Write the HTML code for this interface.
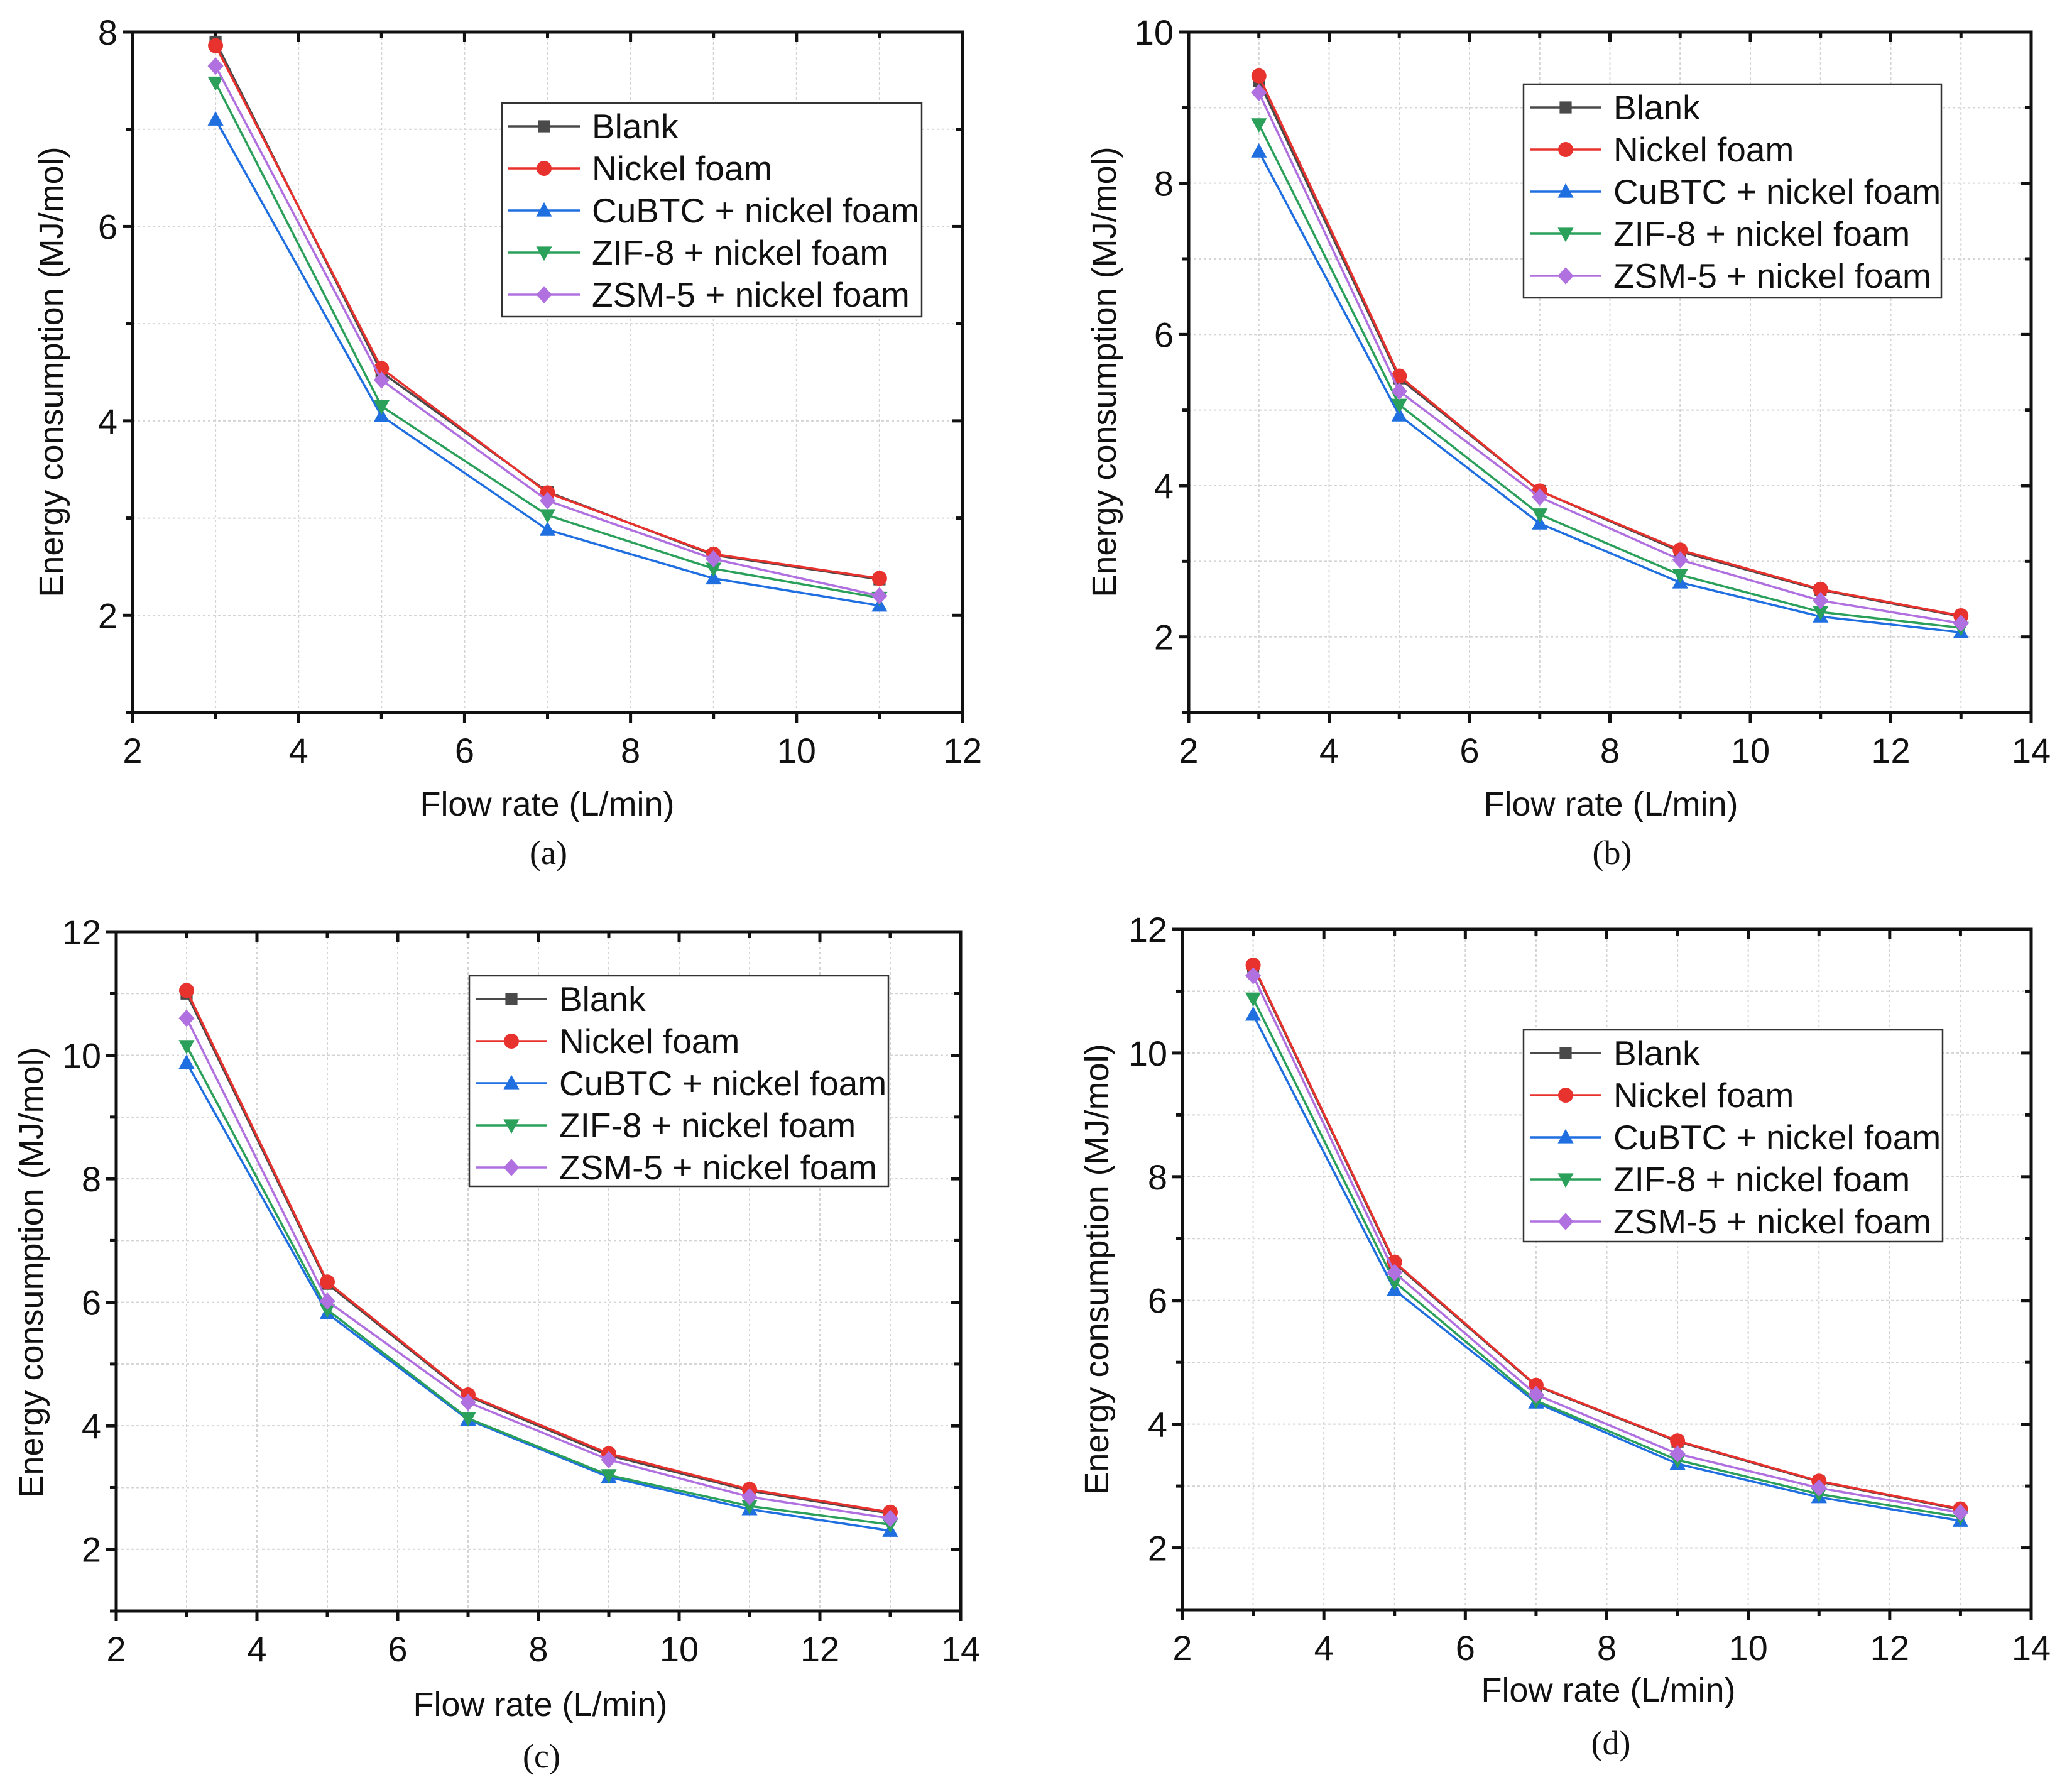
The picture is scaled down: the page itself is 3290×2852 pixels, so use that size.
<!DOCTYPE html>
<html><head><meta charset="utf-8"><style>
html,body{margin:0;padding:0;background:#fff;}
svg{display:block;}
text{font-family:"Liberation Sans",sans-serif;fill:#111;}
.cap{font-family:"Liberation Serif",serif;}
</style></head><body>
<svg id="fig" width="3290" height="2852" viewBox="0 0 3290 2852" xmlns="http://www.w3.org/2000/svg"></svg>
<script>
const seriesNames = ["Blank","Nickel foam","CuBTC + nickel foam","ZIF-8 + nickel foam","ZSM-5 + nickel foam"];
const seriesColors = ["#4a4a4a","#e8322e","#1f6fe0","#2aa05a","#b070e0"];
const seriesMarkers = ["square","circle","up","down","diamond"];

const xA = [3,5,7,9,11];
const aBlank = [7.9,4.5,3.27,2.62,2.37];
const aNickel = [7.86,4.54,3.26,2.63,2.38];
const aCuBTC = [7.1,4.05,2.88,2.38,2.1];
const aZIF = [7.48,4.15,3.03,2.48,2.18];
const aZSM = [7.65,4.42,3.18,2.58,2.2];

const xB = [3,5,7,9,11,13];
const bBlank = [9.35,5.42,3.93,3.13,2.62,2.27];
const bNickel = [9.42,5.45,3.93,3.15,2.63,2.28];
const bCuBTC = [8.42,4.93,3.5,2.72,2.27,2.06];
const bZIF = [8.78,5.07,3.62,2.82,2.33,2.12];
const bZSM = [9.2,5.25,3.85,3.02,2.48,2.18];

const xC = [3,5,7,9,11,13];
const cBlank = [11.0,6.3,4.48,3.52,2.95,2.58];
const cNickel = [11.05,6.33,4.5,3.55,2.97,2.6];
const cCuBTC = [9.88,5.82,4.1,3.17,2.65,2.3];
const cZIF = [10.15,5.88,4.12,3.2,2.7,2.4];
const cZSM = [10.6,6.02,4.38,3.45,2.85,2.5];

const xD = [3,5,7,9,11,13];
const dBlank = [11.4,6.6,4.62,3.72,3.07,2.62];
const dNickel = [11.42,6.62,4.63,3.73,3.08,2.63];
const dCuBTC = [10.62,6.17,4.35,3.36,2.82,2.44];
const dZIF = [10.88,6.3,4.38,3.42,2.87,2.5];
const dZSM = [11.25,6.45,4.48,3.52,2.97,2.57];

const xTicksA = [2,4,6,8,10,12];
const xTicks14 = [2,4,6,8,10,12,14];
const yTicksA = [2,4,6,8];
const yTicksB = [2,4,6,8,10];
const yTicksCD = [2,4,6,8,10,12];

const NS="http://www.w3.org/2000/svg";
const svg=document.getElementById('fig');
function mk(tag,attrs,parent){const e=document.createElementNS(NS,tag);for(const k in attrs)e.setAttribute(k,attrs[k]);(parent||svg).appendChild(e);return e;}

function marker(g,type,cx,cy,color,s){
  let e;
  if(type==="square") e=mk('rect',{x:cx-s*0.8,y:cy-s*0.8,width:s*1.6,height:s*1.6,fill:color},g);
  else if(type==="circle") e=mk('circle',{cx:cx,cy:cy,r:s,fill:color},g);
  else if(type==="up") e=mk('polygon',{points:`${cx},${cy-s*1.1} ${cx+s*1.05},${cy+s*0.8} ${cx-s*1.05},${cy+s*0.8}`,fill:color},g);
  else if(type==="down") e=mk('polygon',{points:`${cx},${cy+s*1.1} ${cx+s*1.05},${cy-s*0.8} ${cx-s*1.05},${cy-s*0.8}`,fill:color},g);
  else e=mk('polygon',{points:`${cx},${cy-s*1.15} ${cx+s*1.05},${cy} ${cx},${cy+s*1.15} ${cx-s*1.05},${cy}`,fill:color},g);
  return e;
}

function panel(p){
  const g=mk('g',{});
  
  
  const L=p.L,R=p.R,T=p.T,B=p.B;
  const sx=v=>L+(v-p.xmin)/(p.xmax-p.xmin)*(R-L);
  const sy=v=>B-(v-p.ymin)/(p.ymax-p.ymin)*(B-T);
  const grid=mk('g',{stroke:'#d4d4d4','stroke-width':2,'stroke-dasharray':'4,4'},g);
  
  
  for(let v=p.xmin+1;v<p.xmax;v++) mk('line',{x1:sx(v),x2:sx(v),y1:T,y2:B},grid);
  for(let v=p.ymin+1;v<p.ymax;v++) mk('line',{x1:L,x2:R,y1:sy(v),y2:sy(v)},grid);
  const tk=mk('g',{stroke:'#111','stroke-width':5},g);
  for(let v=p.xmin;v<=p.xmax;v++){const maj=p.xticks.includes(v);const l=maj?16:10;
    mk('line',{x1:sx(v),x2:sx(v),y1:B,y2:B+l},tk);mk('line',{x1:sx(v),x2:sx(v),y1:T,y2:T+l},tk);}
  for(let v=p.ymin;v<=p.ymax;v++){const maj=p.yticks.includes(v);const l=maj?16:10;
    mk('line',{x1:L-l,x2:L,y1:sy(v),y2:sy(v)},tk);mk('line',{x1:R-l,x2:R,y1:sy(v),y2:sy(v)},tk);}
  const fr=mk('rect',{x:L,y:T,width:R-L,height:B-T,fill:'none',stroke:'#111','stroke-width':5},g);
  
  
  p.xticks.forEach(v=>{const t=mk('text',{x:sx(v),y:B+80,'font-size':56,'text-anchor':'middle'},g);t.textContent=v;
    });
  p.yticks.forEach(v=>{const t=mk('text',{x:L-24,y:sy(v)+20,'font-size':56,'text-anchor':'end'},g);t.textContent=v;
    });
  const xt=mk('text',{x:p.xtx,y:p.xty,'font-size':54,'text-anchor':'middle'},g);xt.textContent='Flow rate (L/min)';
  
  const yt=mk('text',{x:0,y:0,'font-size':54,'text-anchor':'middle',transform:`translate(${p.ytx},${p.yty}) rotate(-90)`},g);yt.textContent='Energy consumption (MJ/mol)';
  
  const cp=mk('text',{x:p.cx,y:p.cy,'font-size':54,'text-anchor':'middle',class:'cap'},g);cp.textContent='('+p.id+')';
  
  p.series.forEach((ys,i)=>{
    const sg=mk('g',{},g);
    
    
    const pts=ys.map((y,j)=>sx(p.x[j])+','+sy(y)).join(' ');
    mk('polyline',{points:pts,fill:'none',stroke:seriesColors[i],'stroke-width':3.5},sg);
    ys.forEach((y,j)=>{const m=marker(sg,seriesMarkers[i],sx(p.x[j]),sy(y),seriesColors[i],12);
      });
  });
  const lg=mk('g',{},g);
  
  
  mk('rect',{x:p.lx,y:p.ly,width:p.lw,height:p.lh,fill:'#fff',stroke:'#333','stroke-width':2.5},lg);
  seriesNames.forEach((n,i)=>{
    const e=mk('g',{},lg);
    
    
    const yy=p.ly+37+i*67;
    mk('line',{x1:p.lx+10,x2:p.lx+124,y1:yy,y2:yy,stroke:seriesColors[i],'stroke-width':3.5},e);
    marker(e,seriesMarkers[i],p.lx+67,yy,seriesColors[i],12);
    const t=mk('text',{x:p.lx+143,y:yy+19,'font-size':55},e);t.textContent=n;
  });
}

panel({id:'a',L:211,R:1532,T:51,B:1134,xmin:2,xmax:12,ymin:1,ymax:8,xticks:xTicksA,yticks:yTicksA,
  x:xA,series:[aBlank,aNickel,aCuBTC,aZIF,aZSM],xtx:871,xty:1298,ytx:100,yty:592,cx:873,cy:1375,lx:799,ly:164,lw:668,lh:340});
panel({id:'b',L:1892,R:3233,T:51,B:1134,xmin:2,xmax:14,ymin:1,ymax:10,xticks:xTicks14,yticks:yTicksB,
  x:xB,series:[bBlank,bNickel,bCuBTC,bZIF,bZSM],xtx:2564,xty:1298,ytx:1776,yty:592,cx:2566,cy:1375,lx:2425,ly:134,lw:665,lh:340});
panel({id:'c',L:185,R:1529,T:1483,B:2564,xmin:2,xmax:14,ymin:1,ymax:12,xticks:xTicks14,yticks:yTicksCD,
  x:xC,series:[cBlank,cNickel,cCuBTC,cZIF,cZSM],xtx:860,xty:2731,ytx:68,yty:2025,cx:862,cy:2813,lx:747,ly:1553,lw:667,lh:335});
panel({id:'d',L:1882,R:3233,T:1479,B:2562,xmin:2,xmax:14,ymin:1,ymax:12,xticks:xTicks14,yticks:yTicksCD,
  x:xD,series:[dBlank,dNickel,dCuBTC,dZIF,dZSM],xtx:2560,xty:2708,ytx:1764,yty:2020,cx:2564,cy:2792,lx:2425,ly:1639,lw:667,lh:337});
</script>
</body></html>
